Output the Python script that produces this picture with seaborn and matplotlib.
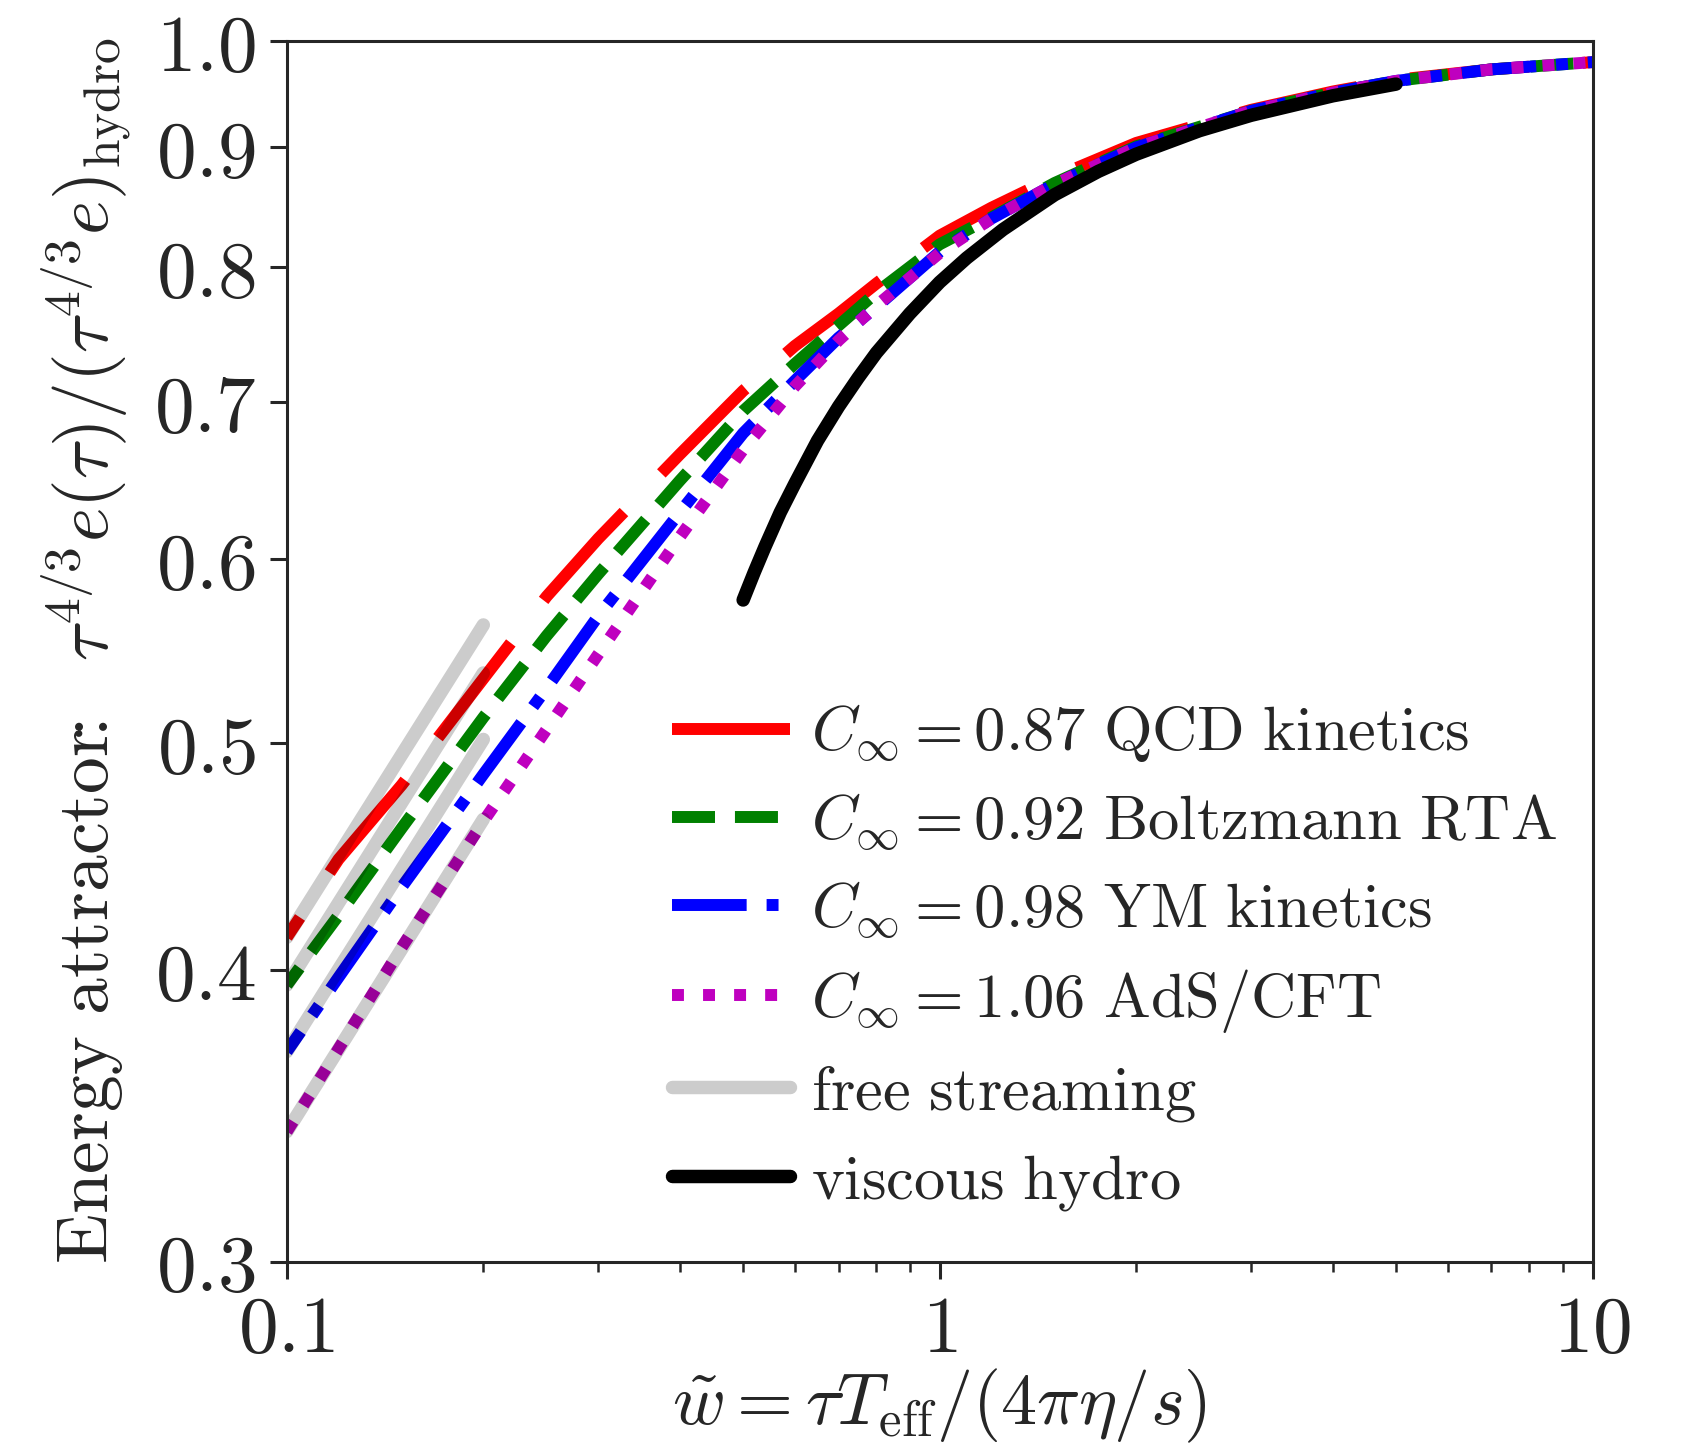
import matplotlib
matplotlib.use("Agg")
import matplotlib.pyplot as plt
import seaborn as sns
from matplotlib.ticker import NullLocator, LogLocator
from matplotlib.lines import Line2D

# ---------------- data ----------------
w_att = [0.1, 0.12, 0.15, 0.2, 0.25, 0.3, 0.4, 0.5, 0.6, 0.7, 0.8, 1.0,
         1.2, 1.5, 2.0, 3.0, 4.0, 5.0, 7.0, 10.0]
e_qcd = [0.413, 0.446, 0.480, 0.533, 0.578, 0.612, 0.665, 0.708, 0.740, 0.764,
         0.787, 0.825, 0.848, 0.874, 0.904, 0.934, 0.951, 0.962, 0.972, 0.979]
e_rta = [0.394, 0.422, 0.460, 0.513, 0.556, 0.591, 0.648, 0.694, 0.727, 0.755,
         0.780, 0.818, 0.840, 0.869, 0.901, 0.933, 0.950, 0.961, 0.972, 0.979]
e_ym = [0.369, 0.397, 0.434, 0.485, 0.528, 0.567, 0.628, 0.679, 0.715, 0.746,
        0.769, 0.812, 0.839, 0.868, 0.900, 0.933, 0.950, 0.961, 0.972, 0.979]
e_ads = [0.341, 0.370, 0.409, 0.463, 0.507, 0.546, 0.613, 0.668, 0.711, 0.744,
         0.770, 0.811, 0.839, 0.868, 0.900, 0.933, 0.950, 0.961, 0.972, 0.979]

w_fs = [0.1, 0.2]
e_fs_qcd = [0.413, 0.562]
e_fs_rta = [0.394, 0.536]
e_fs_ym = [0.369, 0.502]
e_fs_ads = [0.341, 0.464]

w_hydro = [0.5, 0.52, 0.54, 0.57, 0.6, 0.65, 0.7, 0.75, 0.8, 0.9, 1.0, 1.1,
           1.25, 1.5, 1.75, 2.0, 2.5, 3.0, 4.0, 5.0]
e_hydro = [0.576, 0.592, 0.607, 0.628, 0.646, 0.674, 0.697, 0.717, 0.735,
           0.764, 0.788, 0.807, 0.830, 0.859, 0.879, 0.894, 0.915, 0.929,
           0.947, 0.958]

labels = [r"$C_\infty = 0.87\ \mathrm{QCD\ kinetics}$",
          r"$C_\infty = 0.92\ \mathrm{Boltzmann\ RTA}$",
          r"$C_\infty = 0.98\ \mathrm{YM\ kinetics}$",
          r"$C_\infty = 1.06\ \mathrm{AdS/CFT}$",
          r"$\mathrm{free\ streaming}$",
          r"$\mathrm{viscous\ hydro}$"]

xticks = [0.1, 1, 10]
xticklabels = [r"$0.1$", r"$1$", r"$10$"]
yticks = [0.3, 0.4, 0.5, 0.6, 0.7, 0.8, 0.9, 1.0]
yticklabels = [r"$0.3$", r"$0.4$", r"$0.5$", r"$0.6$", r"$0.7$", r"$0.8$",
               r"$0.9$", r"$1.0$"]

# ---------------- style ----------------
sns.set_style("ticks")
plt.rcParams["font.family"] = ["DejaVu Serif"]
plt.rcParams["mathtext.fontset"] = "cm"
plt.rcParams["axes.linewidth"] = 2.2

fig = plt.figure(figsize=(16.87, 14.5), dpi=100)
ax = fig.add_axes([0.170, 0.130, 0.774, 0.842])

LW = 8.6      # coloured curves
LWK = 9.7     # black / grey curves
styles = [
    dict(color="red", ls=(8, (10, 4.5)), lls=(0, (10, 4.5))),
    dict(color="green", ls=(1.8, (3.6, 1.67)), lls=(0, (3.6, 1.67))),
    dict(color="blue", ls=(4.2, (6.25, 1.67, 1, 1.67)),
         lls=(0, (6.25, 1.67, 1, 1.67))),
    dict(color="m", ls=(0, (1, 1.6)), lls=(0, (1, 1.6))),
]
series = [e_qcd, e_rta, e_ym, e_ads]
for e, st in zip(series, styles):
    sns.lineplot(x=w_att, y=e, ax=ax, color=st["color"], linestyle=st["ls"],
                 linewidth=LW, estimator=None, sort=False)

sns.lineplot(x=w_hydro, y=e_hydro, ax=ax, color="k", linewidth=LWK,
             estimator=None, sort=False)

for e in [e_fs_qcd, e_fs_rta, e_fs_ym, e_fs_ads]:
    sns.lineplot(x=w_fs, y=e, ax=ax, color="k", alpha=0.2, linewidth=LWK,
                 estimator=None, sort=False)

ax.set_xscale("log")
ax.set_yscale("log")
ax.set_xlim(0.1, 10)
ax.set_ylim(0.3, 1.0)
ax.set_xticks(xticks)
ax.set_xticklabels(xticklabels)
ax.xaxis.set_minor_locator(LogLocator(base=10, subs=tuple(range(2, 10))))
ax.set_yticks(yticks)
ax.set_yticklabels(yticklabels)
ax.yaxis.set_minor_locator(NullLocator())
ax.tick_params(which="major", direction="out", length=12, width=2.2,
               labelsize=57, pad=10)
ax.tick_params(which="minor", direction="out", length=7, width=1.8)
for s in ax.spines.values():
    s.set_visible(True)
    s.set_linewidth(2.2)

ax.set_xlabel(r"$\tilde{w} = \tau T_{\mathrm{eff}}/(4\pi\eta/s)$", fontsize=52)
ax.set_ylabel(r"$\mathrm{Energy\ attractor}\!\!:\ \ \tau^{4/3}e(\tau)/(\tau^{4/3}e)_{\mathrm{hydro}}$",
              fontsize=53)
ax.xaxis.set_label_coords(0.5, -0.086)
ax.yaxis.set_label_coords(-0.117, 0.5)

handles = [Line2D([], [], color=st["color"], linestyle=st["lls"], linewidth=LW)
           for st in styles]
handles.append(Line2D([], [], color=(0.8, 0.8, 0.8), linewidth=LWK))
handles.append(Line2D([], [], color="k", linewidth=LWK))
if ax.get_legend() is not None:
    ax.get_legend().remove()
ax.legend(handles, labels, loc="upper left", bbox_to_anchor=(0.295, 0.458),
          frameon=False, fontsize=45, handlelength=1.89, handletextpad=0.34,
          labelspacing=0.42, borderpad=0, borderaxespad=0)

fig.savefig("out.png", dpi=100)
